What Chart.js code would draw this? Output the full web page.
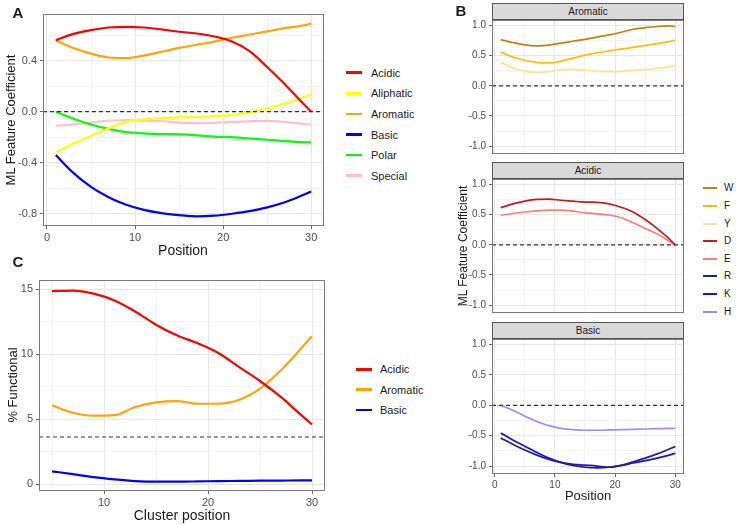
<!DOCTYPE html>
<html>
<head>
<meta charset="utf-8">
<script src="https://cdn.jsdelivr.net/npm/chart.js@4.4.1/dist/chart.umd.min.js"></script>
<style>
body{margin:0;background:#fff;font-family:"Liberation Sans",Arial,sans-serif;}
#wrap{position:relative;width:736px;height:525px;overflow:hidden;}
canvas{position:absolute;}
.t{position:absolute;white-space:nowrap;color:#1a1a1a;line-height:1;}
.seg{position:absolute;}
.strip{position:absolute;background:#d9d9d9;border:1px solid #555;box-sizing:border-box;font-size:10px;color:#1a1a1a;display:flex;align-items:center;justify-content:center;}
</style>
</head>
<body>
<div id="wrap"></div>
<script>
// ---- panel A: ML feature coefficient by class ----
var posA = [1,3,5,7,9,11,13,15,17,19,21,23,25,27,29,30];
var acidicA    = [0.56,0.61,0.64,0.66,0.665,0.66,0.645,0.627,0.613,0.59,0.55,0.475,0.35,0.215,0.07,0.0];
var aliphaticA = [-0.32,-0.25,-0.19,-0.13,-0.08,-0.06,-0.05,-0.045,-0.04,-0.035,-0.025,-0.005,0.025,0.065,0.11,0.135];
var aromaticA  = [0.56,0.5,0.455,0.425,0.42,0.44,0.47,0.5,0.525,0.55,0.58,0.605,0.63,0.655,0.675,0.69];
var basicA     = [-0.34,-0.48,-0.59,-0.67,-0.73,-0.77,-0.795,-0.81,-0.82,-0.815,-0.8,-0.78,-0.75,-0.71,-0.655,-0.625];
var polarA     = [0.0,-0.055,-0.1,-0.135,-0.16,-0.17,-0.175,-0.178,-0.185,-0.195,-0.2,-0.21,-0.22,-0.23,-0.238,-0.24];
var specialA   = [-0.11,-0.1,-0.085,-0.07,-0.065,-0.07,-0.075,-0.085,-0.09,-0.088,-0.08,-0.075,-0.072,-0.08,-0.095,-0.1];
var classNamesA = ["Acidic","Aliphatic","Aromatic","Basic","Polar","Special"];

// ---- panel C: % functional by cluster position ----
var posC = [5,7,9,11,13,15,17,19,21,23,25,27,29,30];
var acidicC   = [14.87,14.9,14.67,14.15,13.3,12.28,11.46,10.85,10.1,9.02,7.95,6.72,5.3,4.6];
var aromaticC = [6.08,5.51,5.28,5.32,5.95,6.3,6.4,6.2,6.2,6.5,7.36,8.77,10.5,11.4];
var basicC    = [1.0,0.78,0.55,0.38,0.25,0.2,0.2,0.22,0.25,0.26,0.28,0.29,0.3,0.3];
var classNamesC = ["Acidic","Aromatic","Basic"];
var baselineC = 3.64;

// ---- panel B: per residue coefficients ----
var posB = [1,3,5,7,9,11,13,15,17,19,21,23,25,27,29,30];
var W = [0.768,0.72,0.68,0.665,0.675,0.71,0.74,0.77,0.81,0.845,0.89,0.94,0.965,0.985,0.995,0.985];
var F = [0.56,0.48,0.425,0.39,0.38,0.41,0.46,0.51,0.55,0.58,0.61,0.64,0.67,0.7,0.735,0.755];
var Y = [0.39,0.3,0.245,0.225,0.235,0.27,0.275,0.26,0.24,0.235,0.24,0.255,0.27,0.29,0.315,0.33];
var D = [0.618,0.68,0.727,0.755,0.76,0.74,0.725,0.71,0.705,0.68,0.625,0.546,0.42,0.27,0.1,0.0];
var E = [0.49,0.52,0.545,0.565,0.575,0.575,0.56,0.53,0.515,0.495,0.45,0.366,0.273,0.18,0.06,-0.01];
var R = [-0.536,-0.64,-0.737,-0.82,-0.89,-0.94,-0.97,-0.985,-1.0,-1.02,-0.99,-0.93,-0.87,-0.8,-0.72,-0.68];
var K = [-0.454,-0.57,-0.672,-0.775,-0.87,-0.94,-0.99,-1.02,-1.03,-1.02,-0.99,-0.95,-0.91,-0.87,-0.82,-0.79];
var H = [0.0,-0.08,-0.18,-0.265,-0.335,-0.38,-0.4,-0.41,-0.41,-0.405,-0.4,-0.395,-0.39,-0.385,-0.38,-0.377];
var residues = ["W","F","Y","D","E","R","K","H"];
var facets = ["Aromatic","Acidic","Basic"];

// tick labels
var xMajA = [0,10,20,30], xMinA = [5,15,25];
var yMajA = [-0.8,-0.4,0,0.4], yMinA = [-0.6,-0.2,0.2,0.6];
var xMajC = [10,20,30], xMinC = [5,15,25];
var yMajC = [0,5,10,15], yMinC = [2.5,7.5,12.5];
var yMajB = [-1,-0.5,0,0.5,1], yMinB = [-0.75,-0.25,0.25,0.75];

Chart.defaults.font.family = '"Liberation Sans", Arial, sans-serif';
Chart.defaults.color = '#4d4d4d';

var wrap = document.getElementById('wrap');

function txt(s, x, y, size, o){
  o = o || {};
  var d = document.createElement('div');
  d.className = 't';
  d.textContent = s;
  d.style.left = x + 'px';
  d.style.top = y + 'px';
  d.style.fontSize = size + 'px';
  if (o.bold) d.style.fontWeight = 'bold';
  var tr = o.left ? 'translate(0,-50%)' : 'translate(-50%,-50%)';
  if (o.rot) tr += ' rotate(-90deg)';
  d.style.transform = tr;
  wrap.appendChild(d);
}
function key(color, label, x1, x2, y, tx, size, lw){
  var s = document.createElement('div');
  s.className = 'seg';
  s.style.left = x1 + 'px'; s.style.width = (x2 - x1) + 'px';
  s.style.top = (y - lw/2) + 'px'; s.style.height = lw + 'px';
  s.style.background = color;
  wrap.appendChild(s);
  txt(label, tx, y, size, {left:true});
}
function strip(label, l, r, t, b){
  var d = document.createElement('div');
  d.className = 'strip';
  d.style.left = l + 'px'; d.style.width = (r - l) + 'px';
  d.style.top = t + 'px'; d.style.height = (b - t) + 'px';
  d.textContent = label;
  wrap.appendChild(d);
}

var frame = {
  id: 'frame',
  afterDatasetsDraw: function(ch){
    var a = ch.chartArea, c = ch.ctx;
    c.save();
    c.strokeStyle = '#7a7a7a';
    c.lineWidth = 1;
    c.strokeRect(Math.round(a.left) + 0.5, Math.round(a.top) + 0.5,
                 Math.round(a.right - a.left) - 1, Math.round(a.bottom - a.top) - 1);
    c.restore();
  }
};

function tickList(maj, min){
  return maj.map(function(v){ return {value:v, mj:true}; })
    .concat(min.map(function(v){ return {value:v, mj:false}; }))
    .sort(function(a,b){ return a.value - b.value; });
}

function gridOpts(ticks){
  return {
    color: function(c){ return c.tick && c.tick.mj ? '#e6e6e6' : '#f3f3f3'; },
    lineWidth: 1,
    drawTicks: ticks,
    tickLength: 3,
    tickWidth: 1,
    tickColor: function(c){ return c.tick && c.tick.mj ? '#666' : 'rgba(0,0,0,0)'; }
  };
}

function panel(o){
  var cv = document.createElement('canvas');
  cv.width = o.cw; cv.height = o.ch;
  cv.style.left = o.cx + 'px'; cv.style.top = o.cy + 'px';
  wrap.appendChild(cv);
  var yW = o.pl - o.cx, xH = o.cy + o.ch - o.pb;
  var sets = [{
    data: [{x:o.xmin, y:o.hline}, {x:o.xmax, y:o.hline}],
    borderColor: '#333', borderWidth: 1.2, borderDash: [4,3], pointRadius: 0
  }];
  o.series.forEach(function(s){
    sets.push({
      data: o.xs.map(function(x,i){ return {x:x, y:s.y[i]}; }),
      borderColor: s.color, borderWidth: o.lw, pointRadius: 0,
      cubicInterpolationMode: 'monotone'
    });
  });
  return new Chart(cv.getContext('2d'), {
    type: 'line',
    data: {datasets: sets},
    plugins: [frame],
    options: {
      responsive: false, animation: false, events: [],
      layout: {padding: {top: o.pt - o.cy, right: o.cx + o.cw - o.pr, left: 0, bottom: 0}},
      plugins: {legend: {display:false}, tooltip: {enabled:false}},
      scales: {
        x: {
          type: 'linear', min: o.xmin, max: o.xmax,
          afterBuildTicks: function(s){ s.ticks = tickList(o.xMaj, o.xMin); },
          afterFit: function(s){ s.height = xH; },
          border: {display:false},
          grid: gridOpts(o.xLabels),
          ticks: {
            display: o.xLabels, autoSkip: false, maxRotation: 0, padding: 2,
            font: {size: o.fs}, color: '#4d4d4d',
            callback: function(v,i,t){ return t[i].mj ? String(v) : ''; }
          }
        },
        y: {
          type: 'linear', min: o.ymin, max: o.ymax,
          afterBuildTicks: function(s){ s.ticks = tickList(o.yMaj, o.yMin); },
          afterFit: function(s){ s.width = yW; },
          border: {display:false},
          grid: gridOpts(true),
          ticks: {
            autoSkip: false, padding: 3, font: {size: o.fs}, color: '#4d4d4d',
            callback: function(v,i,t){ return t[i].mj ? o.fmt(v) : ''; }
          }
        }
      }
    }
  });
}

function one(v){ return (Math.abs(v) < 1e-9 ? 0 : v).toFixed(1); }
function int(v){ return String(Math.round(v)); }

// ---------- A ----------
var colA = ['#ff0000','#ffff00','#ffa500','#0000ff','#00ff00','#ffc0cb'];
panel({
  cx:0, cy:0, cw:330, ch:245, pl:43, pt:14, pr:324, pb:226,
  xmin:-0.45, xmax:31.45, ymin:-0.896, ymax:0.766, hline:0,
  xMaj:xMajA, xMin:xMinA, yMaj:yMajA, yMin:yMinA, xLabels:true, fs:11, lw:2.2, fmt:one,
  xs: posA,
  series: [
    {y:acidicA, color:colA[0]}, {y:aliphaticA, color:colA[1]}, {y:aromaticA, color:colA[2]},
    {y:basicA, color:colA[3]}, {y:polarA, color:colA[4]}, {y:specialA, color:colA[5]}
  ]
});
txt('A', 18, 12, 15, {bold:true});
txt('ML Feature Coefficient', 10, 120, 13, {rot:true});
txt('Position', 183, 250, 14);
classNamesA.forEach(function(n,i){ key(colA[i], n, 346, 362, 72.7 + i*20.6, 371, 11, 2.5); });

// ---------- C ----------
var colC = ['#ff0000','#ffa500','#0000ff'];
panel({
  cx:0, cy:262, cw:330, ch:250, pl:39, pt:280, pr:325, pb:491,
  xmin:3.75, xmax:31.25, ymin:-0.515, ymax:15.72, hline:baselineC,
  xMaj:xMajC, xMin:xMinC, yMaj:yMajC, yMin:yMinC, xLabels:true, fs:11, lw:2.2, fmt:int,
  xs: posC,
  series: [{y:acidicC, color:colC[0]}, {y:aromaticC, color:colC[1]}, {y:basicC, color:colC[2]}]
});
txt('C', 18, 261, 15, {bold:true});
txt('% Functional', 12, 385, 13, {rot:true});
txt('Cluster position', 182, 515, 14);
classNamesC.forEach(function(n,i){ key(colC[i], n, 356, 372, 369.3 + i*20.3, 380, 11, 2.5); });

// ---------- B ----------
var colB = {W:'#b8860b', F:'#ffbb00', Y:'#ffe28f', D:'#c41a1a', E:'#ff7c7c', R:'#23208a', K:'#1010f0', H:'#9d8cff'};
var vals = {W:W, F:F, Y:Y, D:D, E:E, R:R, K:K, H:H};
var facetRes = [["W","F","Y"],["D","E"],["R","K","H"]];
var tops = [19,178,338];
facets.forEach(function(f,k){
  var pt = tops[k], pb = pt + 136, last = k === 2;
  strip(f, 492, 684, pt - 16, pt + 1);
  panel({
    cx:456, cy:pt-8, cw:234, ch:136 + 8 + (last ? 22 : 8), pl:492, pt:pt, pr:684, pb:pb,
    xmin:-0.45, xmax:31.45, ymin:-1.131, ymax:1.093, hline:0,
    xMaj:xMajA, xMin:xMinA, yMaj:yMajB, yMin:yMinB, xLabels:last, fs:10, lw:1.7, fmt:one,
    xs: posB,
    series: facetRes[k].map(function(r){ return {y:vals[r], color:colB[r]}; })
  });
});
txt('B', 461, 10, 15, {bold:true});
txt('ML Feature Coefficient', 463, 246, 12, {rot:true});
txt('Position', 588, 495, 13);
residues.forEach(function(r,i){ key(colB[r], r, 703, 717, 188.3 + i*17.6, 724, 10, 2); });
</script>
</body>
</html>
